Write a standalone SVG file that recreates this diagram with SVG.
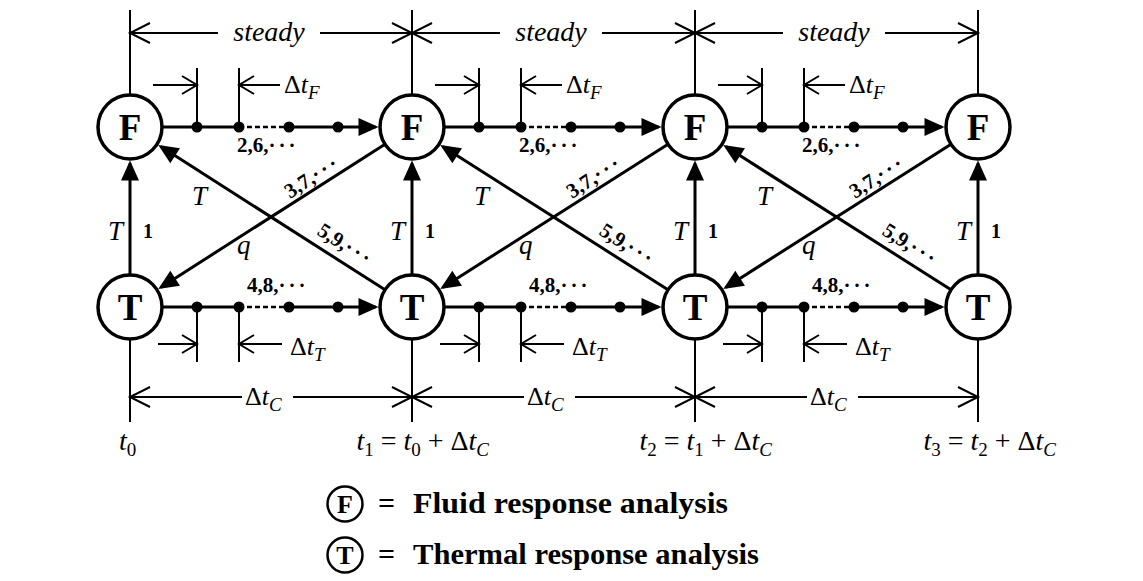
<svg xmlns="http://www.w3.org/2000/svg" width="1143" height="581" viewBox="0 0 1143 581">
<style>
text{font-family:"Liberation Serif","Times New Roman",serif;fill:#000}
.ln{stroke:#000;stroke-width:3;fill:none}
.dm{stroke:#000;stroke-width:2;fill:none}
.ds{stroke:#000;stroke-width:2.5;stroke-dasharray:5 3;fill:none}
.fa{marker-end:url(#fa)}
.oa{marker-end:url(#oa)}
.os{marker-end:url(#os)}
.dot{fill:#000}
.nd circle{fill:#fff;stroke:#000;stroke-width:3.5}
.nl{font-size:37px;font-weight:bold;text-anchor:middle}
.it{font-style:italic}
.up{font-style:normal}
.sb{font-size:19px}
.st{font-size:28px;font-style:italic;text-anchor:middle}
.dt{font-size:26px}
.bl{font-size:21px;font-weight:bold}
.vl{font-size:27px;font-style:italic}
.one{font-size:20px;font-weight:bold}
.tl{font-size:28px;font-style:italic}
.lg{font-size:30px;font-weight:bold}
</style>
<defs>
<marker id="fa" markerUnits="userSpaceOnUse" markerWidth="22" markerHeight="18" refX="17" refY="9" orient="auto" overflow="visible"><path d="M0,0 L20,9 L0,18 Z" fill="#000"/></marker>
<marker id="oa" markerUnits="userSpaceOnUse" markerWidth="22" markerHeight="22" refX="20" refY="11" orient="auto" overflow="visible"><path d="M0,1 L20,11 L0,21" fill="none" stroke="#000" stroke-width="2"/></marker>
<marker id="os" markerUnits="userSpaceOnUse" markerWidth="17" markerHeight="20" refX="15" refY="10" orient="auto" overflow="visible"><path d="M0,1 L15,10 L0,19" fill="none" stroke="#000" stroke-width="2"/></marker>
</defs>

<g id="connectors">
<path class="dm" d="M130,10V95 M412,10V95 M695,10V95 M978,10V95 M130,340V422 M412,340V422 M695,340V422 M978,340V422"/>
<path class="dm oa" d="M218,33H130"/><path class="dm oa" d="M320,33H412"/>
<path class="dm oa" d="M500,33H412"/><path class="dm oa" d="M602,33H695"/>
<path class="dm oa" d="M783,33H695"/><path class="dm oa" d="M885,33H978"/>
<path class="dm oa" d="M242,397H130"/><path class="dm oa" d="M293,397H412"/>
<path class="dm oa" d="M524,397H412"/><path class="dm oa" d="M575,397H695"/>
<path class="dm oa" d="M807,397H695"/><path class="dm oa" d="M858,397H978"/>
<path class="dm" d="M197,68V127 M239,68V127 M479,68V127 M521,68V127 M762,68V127 M804,68V127 M197,307V362 M239,307V362 M479,307V362 M521,307V362 M762,307V362 M804,307V362"/>
<path class="dm os" d="M153,85H197"/><path class="dm os" d="M280,85H239"/>
<path class="dm os" d="M435,85H479"/><path class="dm os" d="M562,85H521"/>
<path class="dm os" d="M718,85H762"/><path class="dm os" d="M845,85H804"/>
<path class="dm os" d="M158,344H197"/><path class="dm os" d="M282,344H239"/>
<path class="dm os" d="M440,344H479"/><path class="dm os" d="M564,344H521"/>
<path class="dm os" d="M723,344H762"/><path class="dm os" d="M847,344H804"/>
<path class="ln" d="M162,127H239"/><path class="ds" d="M239,127H289"/><path class="ln fa" d="M289,127H375.5"/>
<path class="ln" d="M444,127H521"/><path class="ds" d="M521,127H571"/><path class="ln fa" d="M571,127H658.5"/>
<path class="ln" d="M727,127H804"/><path class="ds" d="M804,127H854"/><path class="ln fa" d="M854,127H941.5"/>
<path class="ln" d="M162,307H239"/><path class="ds" d="M239,307H289"/><path class="ln fa" d="M289,307H375.5"/>
<path class="ln" d="M444,307H521"/><path class="ds" d="M521,307H571"/><path class="ln fa" d="M571,307H658.5"/>
<path class="ln" d="M727,307H804"/><path class="ds" d="M804,307H854"/><path class="ln fa" d="M854,307H941.5"/>
<g class="dot">
<circle cx="197" cy="127" r="5.5"/><circle cx="239" cy="127" r="5.5"/><circle cx="289" cy="127" r="5.5"/><circle cx="338" cy="127" r="5.5"/>
<circle cx="479" cy="127" r="5.5"/><circle cx="521" cy="127" r="5.5"/><circle cx="571" cy="127" r="5.5"/><circle cx="620" cy="127" r="5.5"/>
<circle cx="762" cy="127" r="5.5"/><circle cx="804" cy="127" r="5.5"/><circle cx="854" cy="127" r="5.5"/><circle cx="903" cy="127" r="5.5"/>
<circle cx="197" cy="307" r="5.5"/><circle cx="239" cy="307" r="5.5"/><circle cx="289" cy="307" r="5.5"/><circle cx="338" cy="307" r="5.5"/>
<circle cx="479" cy="307" r="5.5"/><circle cx="521" cy="307" r="5.5"/><circle cx="571" cy="307" r="5.5"/><circle cx="620" cy="307" r="5.5"/>
<circle cx="762" cy="307" r="5.5"/><circle cx="804" cy="307" r="5.5"/><circle cx="854" cy="307" r="5.5"/><circle cx="903" cy="307" r="5.5"/>
</g>
<path class="ln fa" d="M130,275V163.5"/><path class="ln fa" d="M412,275V163.5"/><path class="ln fa" d="M695,275V163.5"/><path class="ln fa" d="M978,275V163.5"/>
<path class="ln fa" d="M385,144.2L160.8,287.4"/><path class="ln fa" d="M385,289.8L160.8,146.6"/>
<path class="ln fa" d="M668,144.2L442.8,287.4"/><path class="ln fa" d="M668,289.8L442.8,146.6"/>
<path class="ln fa" d="M951,144.2L725.8,287.4"/><path class="ln fa" d="M951,289.8L725.8,146.6"/>
</g>

<g id="labels">
<text class="st" x="269" y="41">steady</text><text class="st" x="551" y="41">steady</text><text class="st" x="834" y="41">steady</text>
<text class="dt" x="284" y="93">Δ<tspan class="it">t</tspan><tspan class="it sb" dy="6">F</tspan></text>
<text class="dt" x="566" y="93">Δ<tspan class="it">t</tspan><tspan class="it sb" dy="6">F</tspan></text>
<text class="dt" x="849" y="93">Δ<tspan class="it">t</tspan><tspan class="it sb" dy="6">F</tspan></text>
<text class="dt" x="290" y="355">Δ<tspan class="it">t</tspan><tspan class="it sb" dy="6">T</tspan></text>
<text class="dt" x="572" y="355">Δ<tspan class="it">t</tspan><tspan class="it sb" dy="6">T</tspan></text>
<text class="dt" x="855" y="355">Δ<tspan class="it">t</tspan><tspan class="it sb" dy="6">T</tspan></text>
<text class="dt" x="245" y="405">Δ<tspan class="it">t</tspan><tspan class="it sb" dy="6">C</tspan></text>
<text class="dt" x="527" y="405">Δ<tspan class="it">t</tspan><tspan class="it sb" dy="6">C</tspan></text>
<text class="dt" x="810" y="405">Δ<tspan class="it">t</tspan><tspan class="it sb" dy="6">C</tspan></text>
<text class="bl" x="237" y="152">2,6,<tspan letter-spacing="3">···</tspan></text>
<text class="bl" x="519" y="152">2,6,<tspan letter-spacing="3">···</tspan></text>
<text class="bl" x="802" y="152">2,6,<tspan letter-spacing="3">···</tspan></text>
<text class="bl" x="247" y="292">4,8,<tspan letter-spacing="3">···</tspan></text>
<text class="bl" x="529" y="292">4,8,<tspan letter-spacing="3">···</tspan></text>
<text class="bl" x="812" y="292">4,8,<tspan letter-spacing="3">···</tspan></text>
<text class="vl" x="108" y="240">T</text><text class="one" x="143" y="238">1</text>
<text class="vl" x="390" y="240">T</text><text class="one" x="425" y="238">1</text>
<text class="vl" x="673" y="240">T</text><text class="one" x="708" y="238">1</text>
<text class="vl" x="956" y="240">T</text><text class="one" x="991" y="238">1</text>
<text class="vl" x="192" y="205">T</text><text class="vl" x="237" y="254">q</text>
<text class="vl" x="474" y="205">T</text><text class="vl" x="519" y="254">q</text>
<text class="vl" x="757" y="205">T</text><text class="vl" x="802" y="254">q</text>
<text class="bl" transform="translate(290,199) rotate(-32.5)">3,7,<tspan letter-spacing="3">···</tspan></text>
<text class="bl" transform="translate(572,199) rotate(-32.5)">3,7,<tspan letter-spacing="3">···</tspan></text>
<text class="bl" transform="translate(855,199) rotate(-32.5)">3,7,<tspan letter-spacing="3">···</tspan></text>
<text class="bl" transform="translate(316,234) rotate(32.5)">5,9,<tspan letter-spacing="3">···</tspan></text>
<text class="bl" transform="translate(598,234) rotate(32.5)">5,9,<tspan letter-spacing="3">···</tspan></text>
<text class="bl" transform="translate(881,234) rotate(32.5)">5,9,<tspan letter-spacing="3">···</tspan></text>
<text class="tl" x="119" y="450">t<tspan class="up sb" dy="6">0</tspan></text>
<text class="tl" x="489" y="450" text-anchor="end">t<tspan class="up sb" dy="6">1</tspan><tspan class="up" dy="-6"> = </tspan>t<tspan class="up sb" dy="6">0</tspan><tspan class="up" dy="-6"> + Δ</tspan>t<tspan class="sb" dy="6">C</tspan></text>
<text class="tl" x="772" y="450" text-anchor="end">t<tspan class="up sb" dy="6">2</tspan><tspan class="up" dy="-6"> = </tspan>t<tspan class="up sb" dy="6">1</tspan><tspan class="up" dy="-6"> + Δ</tspan>t<tspan class="sb" dy="6">C</tspan></text>
<text class="tl" x="1056" y="450" text-anchor="end">t<tspan class="up sb" dy="6">3</tspan><tspan class="up" dy="-6"> = </tspan>t<tspan class="up sb" dy="6">2</tspan><tspan class="up" dy="-6"> + Δ</tspan>t<tspan class="sb" dy="6">C</tspan></text>
</g>

<g id="F0" class="nd"><circle cx="130" cy="127" r="32"/><text class="nl" x="130" y="140">F</text></g>
<g id="F1" class="nd"><circle cx="412" cy="127" r="32"/><text class="nl" x="412" y="140">F</text></g>
<g id="F2" class="nd"><circle cx="695" cy="127" r="32"/><text class="nl" x="695" y="140">F</text></g>
<g id="F3" class="nd"><circle cx="978" cy="127" r="32"/><text class="nl" x="978" y="140">F</text></g>
<g id="T0" class="nd"><circle cx="130" cy="307" r="32"/><text class="nl" x="130" y="320">T</text></g>
<g id="T1" class="nd"><circle cx="412" cy="307" r="32"/><text class="nl" x="412" y="320">T</text></g>
<g id="T2" class="nd"><circle cx="695" cy="307" r="32"/><text class="nl" x="695" y="320">T</text></g>
<g id="T3" class="nd"><circle cx="978" cy="307" r="32"/><text class="nl" x="978" y="320">T</text></g>

<g id="legend-F">
<circle cx="345" cy="504" r="17.5" fill="#fff" stroke="#000" stroke-width="2.5"/>
<text x="345" y="513" font-size="26" font-weight="bold" text-anchor="middle">F</text>
<text class="lg" x="378" y="513">=</text>
<text class="lg" x="413" y="513" textLength="315" lengthAdjust="spacingAndGlyphs">Fluid response analysis</text>
</g>
<g id="legend-T">
<circle cx="345" cy="555" r="17.5" fill="#fff" stroke="#000" stroke-width="2.5"/>
<text x="345" y="564" font-size="26" font-weight="bold" text-anchor="middle">T</text>
<text class="lg" x="378" y="564">=</text>
<text class="lg" x="413" y="564" textLength="346" lengthAdjust="spacingAndGlyphs">Thermal response analysis</text>
</g>
</svg>
